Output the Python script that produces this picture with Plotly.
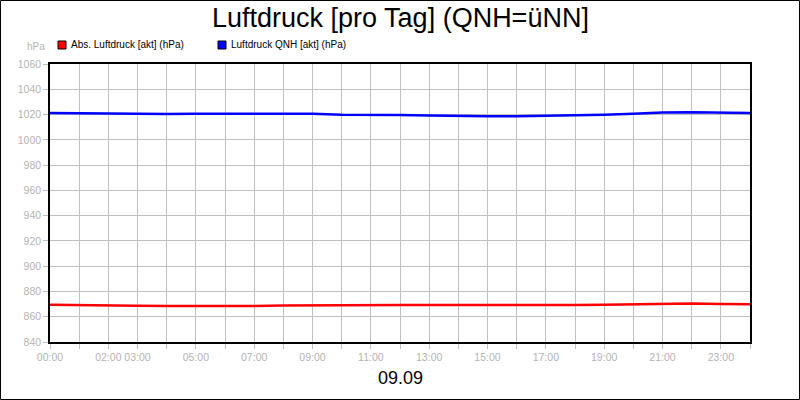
import plotly.graph_objects as go

hours = list(range(25))
abs_druck = [869.4, 869.0, 868.9, 868.7, 868.5, 868.4, 868.4, 868.5, 868.9, 869.1,
             869.3, 869.4, 869.3, 869.2, 869.1, 869.1, 869.1, 869.1, 869.2, 869.4,
             869.8, 870.3, 870.4, 870.1, 869.9]
qnh_druck = [1021.3, 1021.0, 1020.8, 1020.6, 1020.5, 1020.6, 1020.6, 1020.7, 1020.7, 1020.6,
             1019.8, 1019.9, 1019.6, 1019.2, 1018.8, 1018.6, 1018.7, 1018.9, 1019.3, 1019.8,
             1020.6, 1021.6, 1021.9, 1021.5, 1021.3]
tick_labels = ["00:00", "", "02:00", "03:00", "", "05:00", "", "07:00", "", "09:00", "",
               "11:00", "", "13:00", "", "15:00", "", "17:00", "", "19:00", "", "21:00",
               "", "23:00", ""]
series_names = ["Abs. Luftdruck [akt] (hPa)", "Luftdruck QNH [akt] (hPa)"]
series_colors = ["#ff0000", "#0000ff"]

W, H = 800, 400
L, R, T, B = 50, 50, 64, 58
pw, ph = W - L - R, H - T - B

def px(x):
    return (x - L) / pw

def py(y):
    return 1 - (y - T) / ph

fig = go.Figure()
for vals, name, col in zip([abs_druck, qnh_druck], series_names, series_colors):
    fig.add_trace(go.Scatter(x=hours, y=vals, mode="lines", name=name,
                             line=dict(color=col, width=2.5), showlegend=False))

shapes = [dict(type="rect", xref="paper", yref="paper",
               x0=px(0.5), x1=px(W - 0.5), y0=py(0.5), y1=py(H - 0.5),
               line=dict(color="black", width=1), fillcolor="rgba(0,0,0,0)", layer="below")]
annotations = []
legend_x = [58, 218]
for lx, name, col in zip(legend_x, series_names, series_colors):
    shapes.append(dict(type="rect", xref="paper", yref="paper",
                       x0=px(lx), x1=px(lx + 8), y0=py(41), y1=py(49),
                       line=dict(color="black", width=1), fillcolor=col))
    annotations.append(dict(text=name, xref="paper", yref="paper", x=px(lx + 11), y=py(45),
                            xanchor="left", yanchor="middle", showarrow=False,
                            font=dict(family="Liberation Sans, Arial", size=10, color="black")))
annotations.append(dict(text="hPa", xref="paper", yref="paper", x=px(47), y=py(47),
                        xanchor="right", yanchor="middle", showarrow=False,
                        font=dict(family="Liberation Sans, Arial", size=10, color="#b4b4b4")))
annotations.append(dict(text="Luftdruck [pro Tag] (QNH=üNN]", xref="paper", yref="paper",
                        x=px(400), y=py(18), xanchor="center", yanchor="middle", showarrow=False,
                        font=dict(family="Liberation Sans, Arial", size=27, color="black")))
annotations.append(dict(text="09.09", xref="paper", yref="paper",
                        x=px(400), y=py(378), xanchor="center", yanchor="middle", showarrow=False,
                        font=dict(family="Liberation Sans, Arial", size=18, color="black")))

fig.update_layout(
    width=W, height=H, margin=dict(l=L, r=R, t=T, b=B, autoexpand=False),
    paper_bgcolor="white", plot_bgcolor="white",
    shapes=shapes, annotations=annotations, showlegend=False,
    font=dict(family="Liberation Sans, Arial", size=10.5, color="#b4b4b4"),
)
fig.update_xaxes(range=[0, 24], tickvals=hours, ticktext=tick_labels, tickangle=0,
                 automargin=False,
                 showgrid=True, gridcolor="#c0c0c0", gridwidth=1,
                 showline=True, linecolor="black", linewidth=1.5, mirror=True,
                 ticks="outside", ticklen=5, tickcolor="#c0c0c0",
                 tickfont=dict(size=10.5, color="#b4b4b4"), zeroline=False)
fig.update_yaxes(range=[840, 1060], tickvals=list(range(840, 1061, 20)),
                 automargin=False,
                 showgrid=True, gridcolor="#c0c0c0", gridwidth=1,
                 showline=True, linecolor="black", linewidth=1.5, mirror=True,
                 ticks="outside", ticklen=5, tickcolor="#c0c0c0",
                 tickfont=dict(size=10.5, color="#b4b4b4"), zeroline=False)

fig.write_html("out.html", config={"displayModeBar": False},
               post_script="document.body.style.margin='0';document.body.style.overflow='hidden';")
